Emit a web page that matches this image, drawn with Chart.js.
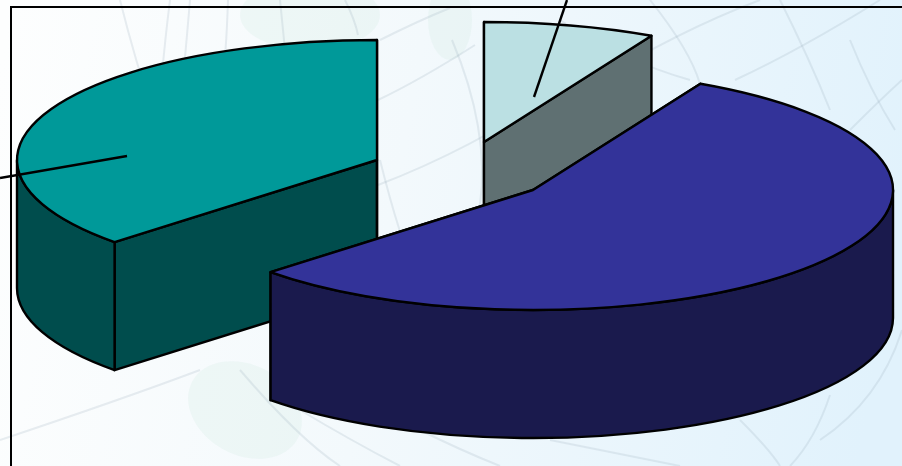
<!DOCTYPE html>
<html>
<head>
<meta charset="utf-8">
<style>
  html, body { margin: 0; padding: 0; background: #fff; overflow: hidden; }
  canvas { display: block; }
</style>
<script src="https://cdn.jsdelivr.net/npm/chart.js@4"></script>
</head>
<body>
<canvas id="pie-chart" width="902" height="466"></canvas>
<script>
// values, no labels are shown on the chart itself
const sliceNames = ["Slice A", "Slice B", "Slice C"];
const sliceValues = [7.7, 55.3, 37];

const topColors = ["#BBE0E3", "#333399", "#009999"];
const wallColors = ["#5F7072", "#1A1A4D", "#004D4D"];

const TILT = 1 / 3;
const DEPTH = 128;
// how far each slice is pulled out of the pie, in screen pixels
const explode = [[19, -31], [68, 17], [-88, -13]];
const drawOrder = [2, 0, 1]; // back to front
// leader lines, relative to the slice tip
const leaders = [
  { slice: 2, from: [-250, -4], to: [-377, 18] },
  { slice: 0, from: [50, -45], to: [83, -142] }
];

// faint globe lines behind the chart
const globeLines = [
  [120, 0, 150, 120, 200, 240], [170, 0, 160, 80, 158, 140], [190, 0, 185, 60, 180, 110],
  [228, 0, 226, 60, 222, 80], [280, 0, 283, 30, 285, 50], [345, 0, 355, 20, 358, 35],
  [380, 160, 400, 240, 415, 270], [378, 185, 470, 150, 560, 90], [380, 40, 420, 20, 450, 8],
  [378, 100, 420, 80, 475, 45], [452, 40, 490, 130, 480, 205], [560, 20, 620, 60, 690, 80],
  [650, 0, 690, 50, 700, 84], [780, 0, 810, 60, 830, 110], [590, 85, 680, 30, 760, 0],
  [735, 80, 800, 50, 880, 0], [850, 40, 870, 90, 895, 130], [850, 130, 880, 100, 902, 80],
  [0, 440, 120, 400, 200, 370], [240, 370, 300, 440, 340, 466], [300, 410, 350, 440, 400, 466],
  [550, 440, 600, 450, 680, 466], [740, 420, 770, 450, 780, 466], [830, 395, 815, 440, 790, 466],
  [902, 330, 880, 400, 820, 440], [420, 430, 460, 450, 500, 466]
];

const backgroundPlugin = {
  id: "background",
  beforeDraw(chart) {
    const ctx = chart.ctx;
    const w = chart.width, h = chart.height;
    ctx.save();
    const grad = ctx.createLinearGradient(0, 60, w, 220);
    grad.addColorStop(0, "#fdfefe");
    grad.addColorStop(0.45, "#f3f9fc");
    grad.addColorStop(1, "#e1f2fc");
    ctx.fillStyle = grad;
    ctx.fillRect(0, 0, w, h);

    // pale green land shapes
    ctx.fillStyle = "rgba(205, 232, 222, 0.22)";
    ctx.beginPath();
    ctx.ellipse(245, 410, 60, 45, 0.5, 0, Math.PI * 2);
    ctx.ellipse(310, 15, 70, 35, 0, 0, Math.PI * 2);
    ctx.fill();
    ctx.beginPath();
    ctx.ellipse(450, 20, 22, 40, 0, 0, Math.PI * 2);
    ctx.fill();

    ctx.strokeStyle = "rgba(150, 170, 185, 0.2)";
    ctx.lineWidth = 2;
    globeLines.forEach(l => {
      ctx.beginPath();
      ctx.moveTo(l[0], l[1]);
      ctx.quadraticCurveTo(l[2], l[3], l[4], l[5]);
      ctx.stroke();
    });

    // plot frame
    ctx.strokeStyle = "#000";
    ctx.lineWidth = 2;
    ctx.beginPath();
    ctx.moveTo(11, h);
    ctx.lineTo(11, 7);
    ctx.lineTo(w, 7);
    ctx.stroke();
    ctx.restore();
  }
};

function drawFace(ctx, color) {
  ctx.closePath();
  ctx.fillStyle = color;
  ctx.fill();
  ctx.stroke();
}

const pie3dPlugin = {
  id: "pie3d",
  // the arcs get their angles and radius from the doughnut controller,
  // here they are only squashed and given walls
  beforeDatasetsDraw(chart) {
    const ctx = chart.ctx;
    const arcs = chart.getDatasetMeta(0).data;

    ctx.save();
    ctx.lineWidth = 2.4;
    ctx.lineJoin = "round";
    ctx.strokeStyle = "#000";

    drawOrder.forEach(i => {
      const arc = arcs[i];
      const r = arc.outerRadius;
      const cx = arc.x + explode[i][0];
      const cy = arc.y + explode[i][1];
      const start = arc.startAngle, end = arc.endAngle;

      // cut faces
      [start, end].forEach(a => {
        const px = cx + Math.cos(a) * r;
        const py = cy + Math.sin(a) * r * TILT;
        ctx.beginPath();
        ctx.moveTo(cx, cy);
        ctx.lineTo(px, py);
        ctx.lineTo(px, py + DEPTH);
        ctx.lineTo(cx, cy + DEPTH);
        drawFace(ctx, wallColors[i]);
      });

      // outer wall, only the front half of the ellipse can be seen
      const a0 = Math.max(start, 0), a1 = Math.min(end, Math.PI);
      if (a0 < a1) {
        ctx.beginPath();
        ctx.ellipse(cx, cy, r, r * TILT, 0, a0, a1);
        ctx.ellipse(cx, cy + DEPTH, r, r * TILT, 0, a1, a0, true);
        drawFace(ctx, wallColors[i]);
      }

      // top
      ctx.save();
      ctx.translate(cx, cy);
      ctx.scale(1, TILT);
      ctx.translate(-arc.x, -arc.y);
      arc.draw(ctx);
      ctx.restore();

      ctx.beginPath();
      ctx.moveTo(cx, cy);
      ctx.ellipse(cx, cy, r, r * TILT, 0, start, end);
      ctx.closePath();
      ctx.stroke();
    });

    leaders.forEach(l => {
      const arc = arcs[l.slice];
      const cx = arc.x + explode[l.slice][0];
      const cy = arc.y + explode[l.slice][1];
      ctx.beginPath();
      ctx.moveTo(cx + l.from[0], cy + l.from[1]);
      ctx.lineTo(cx + l.to[0], cy + l.to[1]);
      ctx.stroke();
    });

    ctx.restore();
    return false; // everything is drawn already
  }
};

new Chart(document.getElementById("pie-chart").getContext("2d"), {
  type: "pie",
  data: {
    labels: sliceNames,
    datasets: [
      {
        data: sliceValues,
        backgroundColor: topColors,
        borderWidth: 0,
      }
    ],
  },
  options: {
    responsive: false,
    animation: false,
    radius: 360,
    layout: {
      padding: { left: 28, bottom: 120 },
    },
    plugins: {
      legend: { display: false },
      tooltip: { enabled: false },
    },
  },
  plugins: [backgroundPlugin, pie3dPlugin],
});
</script>
</body>
</html>
